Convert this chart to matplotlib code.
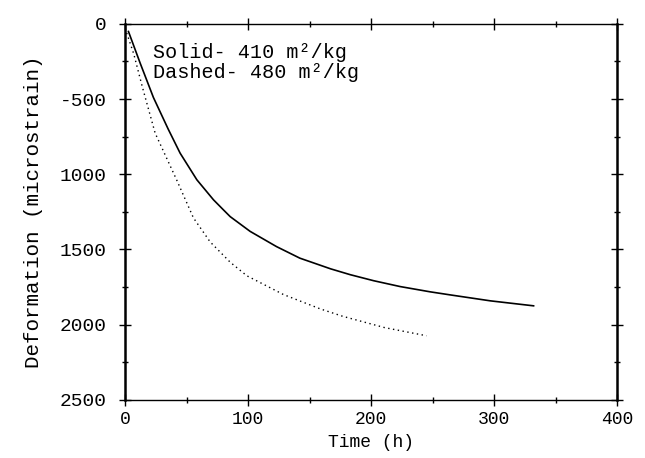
import numpy as np
import matplotlib
matplotlib.use('Agg')
import matplotlib.pyplot as plt

# solid: 410 m2/kg
solid_t = [2.7, 12.2, 23, 35, 44.7, 58.3, 71.8, 79.9, 85.4, 101.6, 123, 142, 167, 183,
           202, 223.6, 248, 264, 297, 332]
solid_d = [51, 261, 490, 700, 860, 1037, 1170, 1237, 1282, 1380, 1481, 1558, 1629, 1668,
           1708, 1747, 1782, 1802, 1842, 1875]

# dashed: 480 m2/kg
dash_t = [0, 7, 14, 24.4, 33, 42, 55.5, 69.1, 85.4, 98.9, 128.7, 158.5, 177, 211, 245]
dash_d = [30, 200, 420, 727, 880, 1040, 1290, 1450, 1585, 1675, 1800, 1895, 1945, 2020, 2074]

x_ticks = [0, 100, 200, 300, 400]
y_ticks = [0, 500, 1000, 1500, 2000, 2500]
y_labels = ["0", "-500", "1000", "1500", "2000", "2500"]

plt.rcParams["font.family"] = ["Liberation Mono", "DejaVu Sans Mono"]

fig = plt.figure(figsize=(6.45, 4.58), dpi=100)
ax = fig.add_axes([0.194, 0.127, 0.763, 0.821])

ax.plot(solid_t, solid_d, color="black", lw=1.2)
ax.plot(dash_t, dash_d, color="black", lw=1.0, linestyle=(0, (1, 2.5)))

ax.set_xlim(0, 400)
ax.set_ylim(2500, 0)
ax.set_xticks(x_ticks)
ax.set_xticklabels([str(v) for v in x_ticks])
ax.set_yticks(y_ticks)
ax.set_yticklabels(y_labels)
ax.set_xticks([50, 150, 250, 350], minor=True)
ax.set_yticks([250, 750, 1250, 1750, 2250], minor=True)

ax.tick_params(axis="both", which="both", top=True, right=True,
               direction="inout", width=1.0)
ax.tick_params(axis="x", labelsize=13, pad=4)
ax.tick_params(axis="y", labelsize=14, pad=9)
ax.tick_params(which="major", length=8)
ax.tick_params(which="minor", length=4)

for side in ["left", "right"]:
    ax.spines[side].set_linewidth(1.8)
for side in ["top", "bottom"]:
    ax.spines[side].set_linewidth(1.0)

ax.set_xlabel("Time (h)", fontsize=13, labelpad=4)
ax.set_ylabel("Deformation (microstrain)", fontsize=15, labelpad=12)

ax.text(0.057, 0.95, "Solid- 410 m\u00b2/kg\nDashed- 480 m\u00b2/kg",
        transform=ax.transAxes, fontsize=14.5, va="top", ha="left",
        linespacing=1.1)

fig.savefig("out.png", dpi=100)
